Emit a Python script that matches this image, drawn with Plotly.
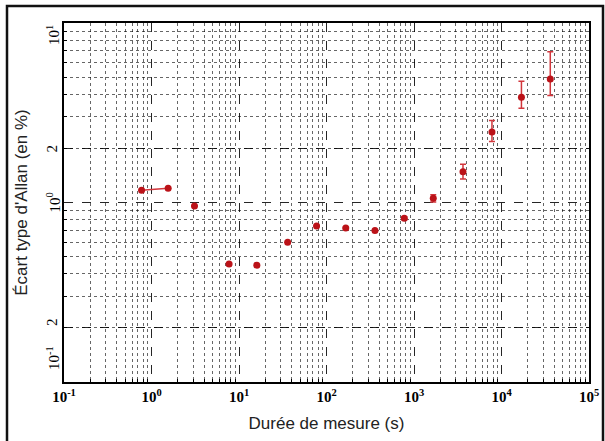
import math
import plotly.graph_objects as go

# Data
tau = [0.77, 1.55, 3.1, 7.7, 16, 36, 77, 166, 358, 775, 1660, 3630, 7780, 16900, 36100]
adev = [1.17, 1.2, 0.956, 0.454, 0.447, 0.60, 0.74, 0.72, 0.698, 0.817, 1.055, 1.485, 2.47, 3.86, 4.88]
err_plus = [0, 0, 0, 0, 0, 0, 0, 0, 0, 0.015, 0.05, 0.15, 0.39, 0.87, 2.04]
err_minus = [0, 0, 0, 0, 0, 0, 0, 0, 0, 0.015, 0.05, 0.135, 0.28, 0.51, 0.94]

x_tickvals = [0.1, 1, 10, 100, 1000, 10000, 100000]
x_ticktext = ["10<sup>-1</sup>", "10<sup>0</sup>", "10<sup>1</sup>", "10<sup>2</sup>",
              "10<sup>3</sup>", "10<sup>4</sup>", "10<sup>5</sup>"]
y_tickvals = [0.1, 0.2, 1, 2, 10]
y_ticktext = ["10<sup>-1</sup>", "2", "10<sup>0</sup>", "2", "10<sup>1</sup>"]

x_minor = [m * 10 ** e for e in range(-1, 5) for m in range(2, 10)]
y_minor = [m * 10 ** e for e in range(-1, 1) for m in range(2, 10)]

red = "#bb1218"
err_red = "#d2363c"

fig = go.Figure()
fig.add_trace(go.Scatter(x=tau[:2], y=adev[:2], mode="lines",
                         line=dict(color=err_red, width=1.5), showlegend=False))
fig.add_trace(go.Scatter(
    x=tau, y=adev, mode="markers",
    marker=dict(color=red, size=7),
    error_y=dict(type="data", symmetric=False, array=err_plus, arrayminus=err_minus,
                 color=err_red, thickness=1.5, width=3),
    showlegend=False))

tickfont = dict(family="Liberation Serif", size=15, color="black", weight="bold")
ytickfont = dict(family="Liberation Serif", size=15, color="black")

grid_major = "rgba(0,0,0,0.85)"
grid_minor = "rgba(0,0,0,0.6)"

Y_RANGE = [-1, 1]

fig.update_xaxes(
    type="log", range=[-1, 5],
    tickvals=x_tickvals, ticktext=x_ticktext, tickfont=tickfont,
    showgrid=True, gridcolor=grid_major, griddash="dash", gridwidth=1.3,
    showline=True, linecolor="black", linewidth=2, mirror=True,
    ticks="", automargin=False,
    minor=dict(tickvals=x_minor, showgrid=True, gridcolor=grid_minor,
               griddash="dot", gridwidth=1.2, ticks="inside", ticklen=3, tickcolor="black"),
    title=dict(text="Durée de mesure (s)", font=dict(family="Liberation Sans", size=17, color="#222"),
               standoff=13),
    zeroline=False,
)
fig.update_yaxes(
    type="log", range=Y_RANGE,
    tickvals=y_tickvals, showticklabels=False,
    showgrid=True, gridcolor=grid_major, griddash="dash", gridwidth=1.3,
    showline=True, linecolor="black", linewidth=2, mirror=True,
    ticks="", automargin=False,
    minor=dict(tickvals=y_minor, showgrid=True, gridcolor=grid_minor,
               griddash="dot", gridwidth=1.2, ticks="inside", ticklen=3, tickcolor="black"),
    title=dict(text="Écart type d'Allan (en %)", font=dict(family="Liberation Sans", size=17, color="#222"),
               standoff=30),
    zeroline=False,
)

L, R, T, B = 64, 16, 23, 59
W, H = 605, 441
pw, ph = W - L - R, H - T - B

# rotated y tick labels (reading bottom to top), placed in paper coordinates
for i, (v, t) in enumerate(zip(y_tickvals, y_ticktext)):
    yp = (math.log10(v) - Y_RANGE[0]) / (Y_RANGE[1] - Y_RANGE[0])
    if i == 0:
        yp += 10 / ph
    fig.add_annotation(x=-22 / pw, xref="paper", y=yp, yref="paper", text=t,
                       textangle=-90, showarrow=False, font=ytickfont)

# outer frame around the whole figure
fig.add_shape(type="rect", xref="paper", yref="paper",
              x0=(7 - L) / pw, x1=(603 - L) / pw,
              y0=(H - B - 448) / ph, y1=(H - B - 6) / ph,
              line=dict(color="#111", width=2.5), layer="above")

fig.update_layout(
    width=W, height=H,
    margin=dict(l=L, r=R, t=T, b=B),
    plot_bgcolor="white", paper_bgcolor="white",
)

fig.write_html("out.html", config={"displayModeBar": False},
               post_script="document.body.style.margin='0';document.body.style.overflow='hidden';")
